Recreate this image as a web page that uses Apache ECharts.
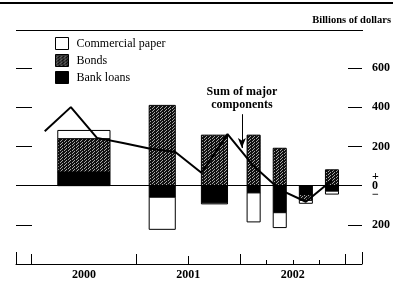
<!DOCTYPE html>
<html>
<head>
<meta charset="utf-8">
<script src="https://cdn.jsdelivr.net/npm/echarts@6/dist/echarts.min.js"></script>
<style>
    html, body { margin: 0; padding: 0; background: #fff; }
    #main { width: 393px; height: 282px; }
</style>
</head>
<body>
<div id="main"></div>
<script>
// periods of the bars, in quarters counted from 2000 Q1
const periods = ['2000', '2001 H1', '2001 H2', '2002 Q1', '2002 Q2', '2002 Q3', '2002 Q4']
const periodStart = [0, 4, 6, 8, 9, 10, 11]
const periodEnd = [4, 6, 8, 9, 10, 11, 12]

// billions of dollars
const bankLoans = [70, -59, -88, -37, -138, -45, -28]
const bonds = [170, 410, 258, 258, 191, -30, 81]
const commercialPaper = [42, -164, -5, -148, -76, -15, -15]

// quarterly line
const quarters = ['2000 Q1', '2000 Q2', '2000 Q3', '2000 Q4', '2001 Q1', '2001 Q2', '2001 Q3', '2001 Q4', '2002 Q1', '2002 Q2', '2002 Q3', '2002 Q4']
const sumMajor = [278, 401, 244, 218, 190, 172, 66, 263, 100, -20, -82, 28]

const years = ['2000', '2001', '2002']
const yearMid = [2, 6, 10]
const yearTicks = [0, 4, 8, 12]
const halfTicks = [6]
const quarterTicks = [9, 10, 11]
const yTickValues = [-200, 200, 400, 600]
const yLabelValues = [-200, 0, 200, 400, 600]

const X_MIN = -0.6
const X_MAX = 12.65
const serif = '"Liberation Serif", "DejaVu Serif", serif'

// speckled fill for bonds
const pc = document.createElement('canvas')
pc.width = 4
pc.height = 3
const g = pc.getContext('2d')
g.fillStyle = '#111'
g.fillRect(0, 0, 4, 3)
g.fillStyle = '#a8a8a8'
g.fillRect(0, 0, 1, 1)
g.fillRect(2, 1, 1, 1)
g.fillRect(1, 2, 1, 1)
const bondFill = { image: pc, repeat: 'repeat' }

// stack: bank loans nearest zero, then bonds, then commercial paper
const posBase = periods.map(() => 0)
const negBase = periods.map(() => 0)
function stackRows (values) {
    return values.map(function (v, i) {
        let lo, hi
        if (v >= 0) {
            lo = posBase[i]; hi = lo + v; posBase[i] = hi
        } else {
            hi = negBase[i]; lo = hi + v; negBase[i] = lo
        }
        return [periodStart[i], periodEnd[i], lo, hi]
    })
}
const loanRows = stackRows(bankLoans)
const bondRows = stackRows(bonds)
const paperRows = stackRows(commercialPaper)

function makeRender (fill) {
    return function (params, api) {
        const s = api.value(0)
        const e = api.value(1)
        const w = e - s
        const p0 = api.coord([s + w / 4, api.value(3)])
        const p1 = api.coord([s + w * 3 / 4, api.value(2)])
        return {
            type: 'rect',
            shape: { x: p0[0], y: p0[1], width: p1[0] - p0[0], height: p1[1] - p0[1] },
            style: { fill: fill, stroke: '#000', lineWidth: 1 }
        }
    }
}

function xAxisOf (ticks, len, extra) {
    return Object.assign({
        type: 'value',
        position: 'bottom',
        min: X_MIN,
        max: X_MAX,
        axisLine: { show: false, onZero: false },
        axisTick: { show: true, inside: true, length: len, customValues: ticks, lineStyle: { color: '#000', width: 1 } },
        axisLabel: { show: false },
        splitLine: { show: false }
    }, extra || {})
}

const chart = echarts.init(document.getElementById('main'))
chart.setOption({
    animation: false,
    backgroundColor: '#fff',
    grid: { left: 16, right: 30, top: 29, bottom: 18 },
    legend: {
        orient: 'vertical',
        left: 55,
        top: 37,
        padding: 0,
        itemWidth: 13,
        itemHeight: 12,
        itemGap: 4,
        selectedMode: false,
        textStyle: { fontFamily: serif, fontSize: 12, color: '#000', padding: [0, 0, 0, 3] },
        data: [
            { name: 'Commercial paper', icon: 'rect', itemStyle: { color: '#fff', borderColor: '#000', borderWidth: 1 } },
            { name: 'Bonds', icon: 'rect', itemStyle: { color: bondFill, borderColor: '#000', borderWidth: 1 } },
            { name: 'Bank loans', icon: 'rect', itemStyle: { color: '#000', borderColor: '#000', borderWidth: 1 } }
        ]
    },
    graphic: [
        { type: 'rect', left: 0, top: 2, shape: { width: 393, height: 2 }, style: { fill: '#000' } },
        { type: 'line', shape: { x1: 16, y1: 30.5, x2: 363, y2: 30.5 }, style: { stroke: '#000', lineWidth: 1 } },
        { type: 'text', right: 2, top: 15, style: { text: 'Billions of dollars', font: 'bold 10.5px ' + serif, fill: '#000' } }
    ],
    xAxis: [
        xAxisOf(yearTicks, 10, {
            axisLine: { show: true, onZero: false, lineStyle: { color: '#000', width: 1 } },
            axisLabel: {
                show: true,
                customValues: yearMid,
                margin: 5,
                fontFamily: serif,
                fontSize: 12,
                fontWeight: 'bold',
                color: '#000',
                formatter: function (v) { return years[yearMid.indexOf(v)] }
            }
        }),
        xAxisOf(halfTicks, 8),
        xAxisOf(quarterTicks, 4),
        xAxisOf([X_MIN, X_MAX], 12)
    ],
    yAxis: [{
        type: 'value',
        position: 'left',
        min: -400,
        max: 800,
        interval: 200,
        axisLine: { show: false, onZero: false },
        axisTick: { show: true, inside: true, length: 16, customValues: yTickValues, lineStyle: { color: '#000', width: 1 } },
        axisLabel: { show: false },
        splitLine: { show: false }
    }, {
        type: 'value',
        position: 'right',
        min: -400,
        max: 800,
        interval: 200,
        axisLine: { show: false, onZero: false },
        axisTick: { show: true, inside: true, length: 14, customValues: yTickValues, lineStyle: { color: '#000', width: 1 } },
        axisLabel: {
            show: true,
            customValues: yLabelValues,
            margin: 10,
            fontFamily: serif,
            fontSize: 12,
            fontWeight: 'bold',
            color: '#000',
            lineHeight: 9,
            formatter: function (v) { return v === 0 ? '+\n0\n\u2212' : String(Math.abs(v)) }
        },
        splitLine: { show: false }
    }],
    series: [{
        name: 'Bank loans',
        type: 'custom',
        renderItem: makeRender('#000'),
        itemStyle: { color: '#000' },
        data: loanRows
    }, {
        name: 'Bonds',
        type: 'custom',
        renderItem: makeRender(bondFill),
        itemStyle: { color: '#222' },
        data: bondRows
    }, {
        name: 'Commercial paper',
        type: 'custom',
        renderItem: makeRender('#fff'),
        itemStyle: { color: '#fff' },
        data: paperRows
    }, {
        name: 'Sum of major components',
        type: 'line',
        showSymbol: false,
        symbol: 'none',
        lineStyle: { color: '#000', width: 2 },
        data: sumMajor.map(function (v, i) { return [i + 0.5, v] }),
        markLine: {
            silent: true,
            animation: false,
            symbol: 'none',
            data: [
                { yAxis: 0 },
                [{
                    coord: [8.05, 365],
                    symbol: 'none',
                    label: {
                        show: true,
                        position: 'start',
                        distance: 3,
                        formatter: 'Sum of major\ncomponents',
                        fontFamily: serif,
                        fontSize: 12,
                        fontWeight: 'bold',
                        lineHeight: 13,
                        color: '#000'
                    }
                }, { coord: [8.05, 192], symbol: 'arrow', symbolSize: [6, 10] }]
            ],
            lineStyle: { color: '#000', width: 1, type: 'solid' },
            label: { show: false }
        }
    }]
})
</script>
</body>
</html>
